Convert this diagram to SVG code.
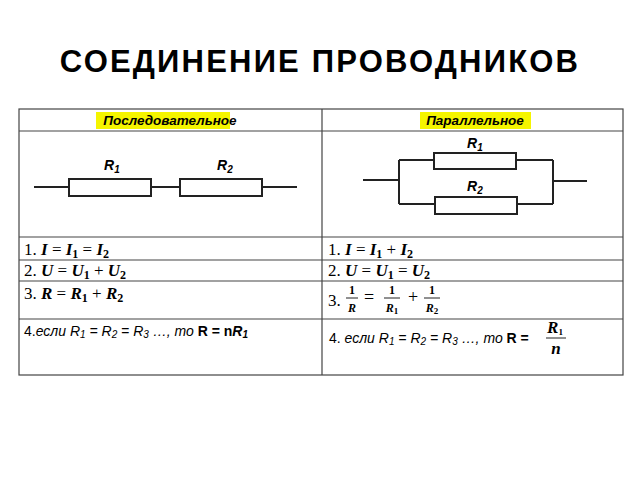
<svg xmlns="http://www.w3.org/2000/svg" width="640" height="480" viewBox="0 0 640 480">
<style>
.t{font-family:"Liberation Sans",Arial,sans-serif}
.m{font-family:"Liberation Serif","DejaVu Serif",serif;font-size:17px}
.b{font-weight:bold;font-style:italic}
.grid{stroke:#444;stroke-width:1.2;fill:none}
.w{stroke:#222;stroke-width:2;fill:none}
.r{stroke:#222;stroke-width:2;fill:#fff}
.lab{font-family:"Liberation Sans",Arial,sans-serif;font-weight:bold;font-style:italic;font-size:14px}
.c{font-family:"Liberation Sans",Arial,sans-serif;font-size:14px}
</style>
<rect width="640" height="480" fill="#fff"/>
<text class="t" x="320" y="72" text-anchor="middle" font-size="31" font-weight="bold" letter-spacing="2.2">СОЕДИНЕНИЕ ПРОВОДНИКОВ</text>
<g id="table">
<rect class="grid" x="19" y="109" width="604" height="266"/>
<line class="grid" x1="322" y1="109" x2="322" y2="375"/>
<line class="grid" x1="19" y1="131" x2="623" y2="131"/>
<line class="grid" x1="19" y1="237" x2="623" y2="237"/>
<line class="grid" x1="19" y1="260" x2="623" y2="260"/>
<line class="grid" x1="19" y1="281" x2="623" y2="281"/>
<line class="grid" x1="19" y1="319" x2="623" y2="319"/>
</g>
<g id="headers">
<rect x="96" y="112" width="134" height="17" fill="#f5f500"/>
<text class="t" x="170" y="125" text-anchor="middle" font-size="13.5" font-weight="bold" font-style="italic">Последовательное</text>
<rect x="420" y="112" width="111" height="17" fill="#f5f500"/>
<text class="t" x="475" y="125" text-anchor="middle" font-size="13.5" font-weight="bold" font-style="italic">Параллельное</text>
</g>
<g id="series">
<line class="w" x1="34" y1="187" x2="297" y2="187"/>
<rect class="r" x="69" y="179" width="82" height="17"/>
<rect class="r" x="180" y="179" width="82" height="17"/>
<text class="lab" x="104" y="170">R<tspan font-size="10" dy="3">1</tspan></text>
<text class="lab" x="217" y="170">R<tspan font-size="10" dy="3">2</tspan></text>
</g>
<g id="parallel">
<path class="w" d="M363 180H399M399 160V204M399 160H553M399 204H553M553 160V204M553 181H587"/>
<rect class="r" x="434" y="153" width="82" height="16"/>
<rect class="r" x="435" y="197" width="82" height="17"/>
<text class="lab" x="467" y="148">R<tspan font-size="10" dy="3">1</tspan></text>
<text class="lab" x="467" y="191">R<tspan font-size="10" dy="3">2</tspan></text>
</g>
<g id="series-formulas">
<text class="m" x="24" y="255">1. <tspan class="b">I</tspan> = <tspan class="b">I</tspan><tspan font-size="12" dy="3" font-weight="bold">1</tspan><tspan dy="-3"> = </tspan><tspan class="b">I</tspan><tspan font-size="12" dy="3" font-weight="bold">2</tspan></text>
<text class="m" x="24" y="276">2. <tspan class="b">U</tspan> = <tspan class="b">U</tspan><tspan font-size="12" dy="3" font-weight="bold">1</tspan><tspan dy="-3"> + </tspan><tspan class="b">U</tspan><tspan font-size="12" dy="3" font-weight="bold">2</tspan></text>
<text class="m" x="24" y="299">3. <tspan class="b">R</tspan> = <tspan class="b">R</tspan><tspan font-size="12" dy="3" font-weight="bold">1</tspan><tspan dy="-3"> + </tspan><tspan class="b">R</tspan><tspan font-size="12" dy="3" font-weight="bold">2</tspan></text>
<text class="c" x="24" y="336">4.<tspan font-style="italic">если R<tspan font-size="10" dy="2">1</tspan><tspan dy="-2"> = R</tspan><tspan font-size="10" dy="2">2</tspan><tspan dy="-2"> = R</tspan><tspan font-size="10" dy="2">3</tspan><tspan dy="-2"> …, то </tspan></tspan><tspan font-weight="bold">R = n</tspan><tspan font-weight="bold" font-style="italic">R</tspan><tspan font-size="10" dy="2" font-style="italic" font-weight="bold">1</tspan></text>
</g>
<g id="parallel-formulas">
<text class="m" x="328" y="255">1. <tspan class="b">I</tspan> = <tspan class="b">I</tspan><tspan font-size="12" dy="3" font-weight="bold">1</tspan><tspan dy="-3"> + </tspan><tspan class="b">I</tspan><tspan font-size="12" dy="3" font-weight="bold">2</tspan></text>
<text class="m" x="328" y="276">2. <tspan class="b">U</tspan> = <tspan class="b">U</tspan><tspan font-size="12" dy="3" font-weight="bold">1</tspan><tspan dy="-3"> = </tspan><tspan class="b">U</tspan><tspan font-size="12" dy="3" font-weight="bold">2</tspan></text>
<text class="m" x="328" y="306">3.</text>
<g class="m" font-weight="bold" text-anchor="middle">
<text x="352" y="294" font-size="12">1</text>
<line x1="346" y1="298" x2="358" y2="298" stroke="#222" stroke-width="1"/>
<text x="352" y="312" font-size="12" font-style="italic">R</text>
<text x="369" y="303" font-size="18" font-weight="normal">=</text>
<text x="392" y="294" font-size="12">1</text>
<line x1="384" y1="298" x2="400" y2="298" stroke="#222" stroke-width="1"/>
<text x="392" y="312" font-size="12" font-style="italic">R<tspan font-size="9" dy="2" font-style="normal">1</tspan></text>
<text x="413" y="303" font-size="18" font-weight="normal">+</text>
<text x="432" y="294" font-size="12">1</text>
<line x1="424" y1="298" x2="440" y2="298" stroke="#222" stroke-width="1"/>
<text x="432" y="312" font-size="12" font-style="italic">R<tspan font-size="9" dy="2" font-style="normal">2</tspan></text>
</g>
<text class="c" x="329" y="343">4. <tspan font-style="italic">если R<tspan font-size="10" dy="2">1</tspan><tspan dy="-2"> = R</tspan><tspan font-size="10" dy="2">2</tspan><tspan dy="-2"> = R</tspan><tspan font-size="10" dy="2">3</tspan><tspan dy="-2"> …, то </tspan></tspan><tspan font-weight="bold">R =</tspan></text>
<text class="m" x="555" y="333" font-size="13" font-weight="bold" font-style="italic" text-anchor="middle">R<tspan font-size="9" dy="2" font-style="normal">1</tspan></text>
<line x1="546" y1="338" x2="566" y2="338" stroke="#222" stroke-width="1"/>
<text class="m" x="556" y="354" font-size="13" font-weight="bold" font-style="italic" text-anchor="middle">n</text>
</g>
</svg>
